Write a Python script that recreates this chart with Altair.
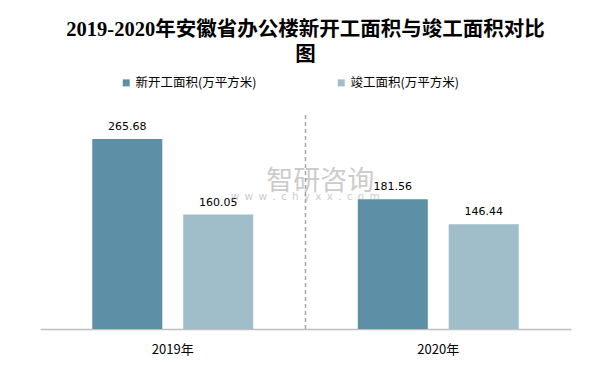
import altair as alt
import pandas as pd

years = ["2019年", "2019年", "2020年", "2020年"]
series = ["新开工面积(万平方米)", "竣工面积(万平方米)", "新开工面积(万平方米)", "竣工面积(万平方米)"]
values = [265.68, 160.05, 181.56, 146.44]
series_order = ["新开工面积(万平方米)", "竣工面积(万平方米)"]
colors = ["#5D90A6", "#A0BDCA"]
title_lines = ["2019-2020年安徽省办公楼新开工面积与竣工面积对比", "图"]
wm_name = ["智研咨询"]
wm_url = ["\u2002".join("www.chyxx.com")]

df = pd.DataFrame({"year": years, "series": series, "value": values})
wm1_df = pd.DataFrame({"t": wm_name, "year": ["2020年"], "v": [206.0]})
wm2_df = pd.DataFrame({"t": wm_url, "year": ["2020年"], "v": [184.0]})

CJK = "Noto Sans CJK SC"

x_enc = alt.X(
    "year:N",
    scale=alt.Scale(paddingInner=0, paddingOuter=0),
    axis=alt.Axis(
        title=None, labelAngle=0, domainColor="#BFBFBF", domainWidth=1.5,
        ticks=False, labelPadding=14, labelFontSize=13, labelFont=CJK,
        labelColor="#000000",
        grid=True, bandPosition=0, gridColor="#A6A6A6", gridWidth=1.5,
        gridDash=[4, 3],
        gridOpacity={"condition": {"test": "datum.value === '2019年'", "value": 0}, "value": 1},
    ),
)
xoff_enc = alt.XOffset(
    "series:N", sort=series_order,
    scale=alt.Scale(paddingInner=0.23, paddingOuter=0.575),
)
y_enc = alt.Y("value:Q", scale=alt.Scale(domain=[0, 300]), axis=None)

base = alt.Chart(df)

bars = base.mark_bar().encode(
    x=x_enc,
    xOffset=xoff_enc,
    y=y_enc,
    color=alt.Color(
        "series:N", sort=series_order,
        scale=alt.Scale(domain=series_order, range=colors),
        legend=alt.Legend(
            title=None, orient="none", legendX=80, legendY=-38,
            direction="horizontal", columnPadding=78, symbolType="square",
            symbolSize=49, symbolStrokeWidth=0, labelFontSize=12.5, labelFont=CJK,
            labelColor="#000000", labelOffset=3, padding=0, labelLimit=0,
        ),
    ),
)

labels = base.mark_text(
    dy=-9, baseline="alphabetic", fontSize=11, font="DejaVu Sans", color="#000000"
).encode(
    x=x_enc, xOffset=xoff_enc, y=y_enc,
    text=alt.Text("value:Q", format=".2f"),
)

wm1 = alt.Chart(wm1_df).mark_text(
    font=CJK, fontSize=27, color="#9A9A9A", opacity=0.5, dx=-118
).encode(x=alt.X("year:N"), y=alt.Y("v:Q"), text="t:N")

wm2 = alt.Chart(wm2_df).mark_text(
    font="DejaVu Sans", fontSize=10.5, color="#9A9A9A", opacity=0.5, dx=-133
).encode(x=alt.X("year:N"), y=alt.Y("v:Q"), text="t:N")

chart = alt.layer(bars, labels, wm1, wm2).properties(
    width=531,
    height=214.5,
    autosize="none",
    padding={"left": 32, "top": 106.5, "right": 31, "bottom": 31},
    title=alt.TitleParams(
        text=title_lines, anchor="middle", frame="group", fontSize=20.5,
        font="Liberation Serif, Noto Sans CJK SC", fontWeight="bold",
        color="#000000", lineHeight=25, offset=11,
    ),
).configure_view(stroke=None)

chart.save("out.html", embed_options={"renderer": "svg", "actions": False})
